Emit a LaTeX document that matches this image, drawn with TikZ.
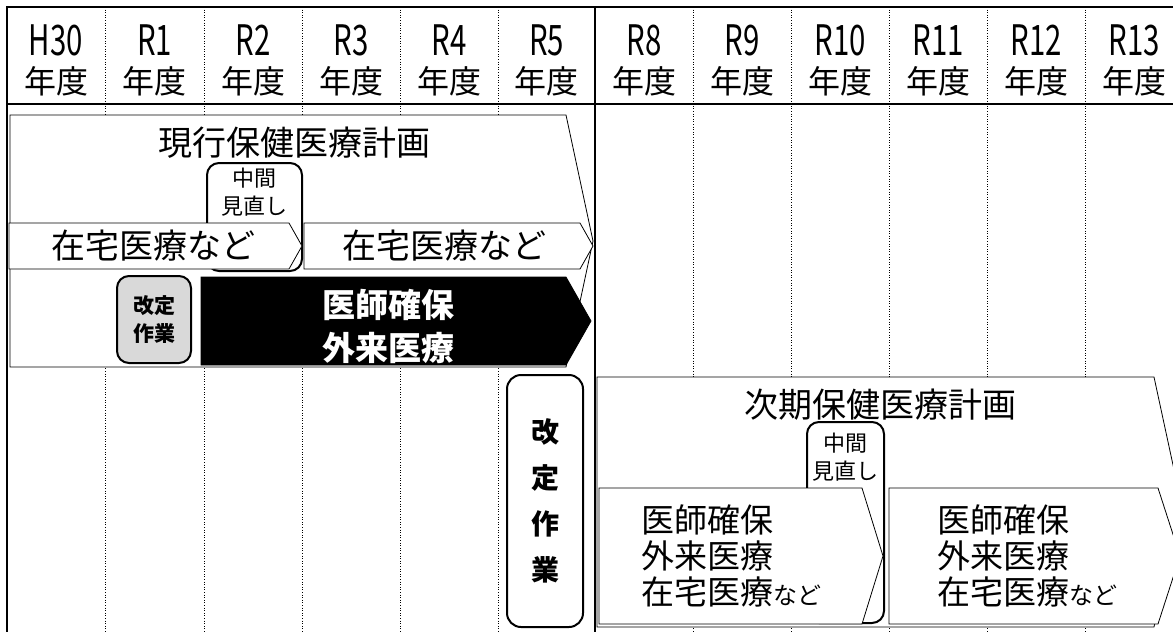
\documentclass[tikz,border=0pt]{standalone}
\usepackage{fontspec}
\setmainfont{Noto Sans CJK JP}
\newfontfamily\hdrfont[FakeStretch=0.7]{Noto Sans CJK JP}
\usepackage{tikz}
\usetikzlibrary{positioning}

\begin{document}
\begin{tikzpicture}[inner sep=0pt,
  colline/.style={line width=0.6pt, dash pattern=on 1pt off 1.6pt},
  tblline/.style={line width=2pt},
  chev/.style={draw, fill=white, line width=0.8pt},
  blk/.style={draw, fill=black, line width=0.8pt},
  rbox/.style={draw, fill=white, line width=2pt, rounded corners=12pt, shape=rectangle},
  yr/.style={font=\hdrfont\fontsize{42}{42}\selectfont},
  nendo/.style={font=\fontsize{32}{32}\selectfont},
  bigtxt/.style={font=\fontsize{34}{36}\selectfont, align=center},
  lst/.style={font=\fontsize{33}{36}\selectfont, align=left, anchor=west},
  mtxt/.style={font=\fontsize{22}{28}\selectfont, align=center}]
\useasboundingbox (0pt,0pt) rectangle (1173pt,-632pt);

% year columns
\draw[colline] (105pt,-7pt) -- (105pt,-640pt);
\draw[colline] (204pt,-7pt) -- (204pt,-640pt);
\draw[colline] (302pt,-7pt) -- (302pt,-640pt);
\draw[colline] (400pt,-7pt) -- (400pt,-640pt);
\draw[colline] (498pt,-7pt) -- (498pt,-640pt);
\draw[colline] (693pt,-7pt) -- (693pt,-640pt);
\draw[colline] (791pt,-7pt) -- (791pt,-640pt);
\draw[colline] (889pt,-7pt) -- (889pt,-640pt);
\draw[colline] (987pt,-7pt) -- (987pt,-640pt);
\draw[colline] (1085pt,-7pt) -- (1085pt,-640pt);
\draw[tblline] (1190pt,-7pt) -- (7pt,-7pt) -- (7pt,-640pt);
\draw[tblline] (7pt,-104pt) -- (1190pt,-104pt);
\draw[tblline] (595pt,-7pt) -- (595pt,-640pt);

\node (y0) [yr, at={(56pt,-40pt)}] {H30};
\node (y1) [yr, at={(154.5pt,-40pt)}] {R1};
\node (y2) [yr, at={(253pt,-40pt)}] {R2};
\node (y3) [yr, at={(351pt,-40pt)}] {R3};
\node (y4) [yr, at={(449pt,-40pt)}] {R4};
\node (y5) [yr, at={(546.5pt,-40pt)}] {R5};
\node (y6) [yr, at={(644pt,-40pt)}] {R8};
\node (y7) [yr, at={(742pt,-40pt)}] {R9};
\node (y8) [yr, at={(840pt,-40pt)}] {R10};
\node (y9) [yr, at={(938pt,-40pt)}] {R11};
\node (y10) [yr, at={(1036pt,-40pt)}] {R12};
\node (y11) [yr, at={(1134pt,-40pt)}] {R13};
\node (n0) [nendo, at={(56pt,-81pt)}] {年度};
\node (n1) [nendo, at={(154.5pt,-81pt)}] {年度};
\node (n2) [nendo, at={(253pt,-81pt)}] {年度};
\node (n3) [nendo, at={(351pt,-81pt)}] {年度};
\node (n4) [nendo, at={(449pt,-81pt)}] {年度};
\node (n5) [nendo, at={(546.5pt,-81pt)}] {年度};
\node (n6) [nendo, at={(644pt,-81pt)}] {年度};
\node (n7) [nendo, at={(742pt,-81pt)}] {年度};
\node (n8) [nendo, at={(840pt,-81pt)}] {年度};
\node (n9) [nendo, at={(938pt,-81pt)}] {年度};
\node (n10) [nendo, at={(1036pt,-81pt)}] {年度};
\node (n11) [nendo, at={(1134pt,-81pt)}] {年度};

% current plan
\path[chev] (10pt,-115pt) -- (566pt,-115pt) -- (593pt,-241pt) -- (566pt,-367pt) -- (10pt,-367pt) -- cycle;
\node (plan1) [bigtxt, at={(294pt,-143pt)}] {現行保健医療計画};
\node (mid1) [rbox, minimum width=95pt, minimum height=108pt, at={(254.5pt,-217pt)}] {};
\node (mid1t) [mtxt, below=6pt of mid1.north] {中間\\見直し};
\path[chev] (9pt,-223pt) -- (289pt,-223pt) -- (302pt,-246pt) -- (289pt,-269pt) -- (9pt,-269pt) -- cycle;
\node (home1) [bigtxt, at={(153pt,-246pt)}] {在宅医療など};
\path[chev] (304pt,-223pt) -- (580pt,-223pt) -- (593pt,-246pt) -- (580pt,-269pt) -- (304pt,-269pt) -- cycle;
\node (home2) [bigtxt, at={(444pt,-246pt)}] {在宅医療など};
\node (rev1) [rbox, fill=black!15, minimum width=74pt, minimum height=87pt, at={(154pt,-319.5pt)}, mtxt, font=\bfseries\fontsize{21}{28}\selectfont] {改定\\作業};
\path[blk] (201pt,-277pt) -- (566pt,-277pt) -- (591pt,-321pt) -- (566pt,-365pt) -- (201pt,-365pt) -- cycle;
\node (doc1) [bigtxt, text=white, font=\bfseries\fontsize{33}{43}\selectfont, at={(388pt,-326.5pt)}] {医師確保\\外来医療};

% next plan
\node (rev2) [rbox, rounded corners=14pt, minimum width=76pt, minimum height=252pt, at={(545pt,-501pt)}, align=center, font=\bfseries\fontsize{28}{46}\selectfont] {改\\定\\作\\業};
\path[chev] (597pt,-377pt) -- (1154pt,-377pt) -- (1181pt,-502pt) -- (1154pt,-627pt) -- (597pt,-627pt) -- cycle;
\node (plan2) [bigtxt, at={(880pt,-405pt)}] {次期保健医療計画};
\node (mid2) [rbox, minimum width=77pt, minimum height=201pt, at={(845.5pt,-522.5pt)}] {};
\node (mid2t) [mtxt, below=12pt of mid2.north] {中間\\見直し};
\path[chev] (599pt,-488pt) -- (862pt,-488pt) -- (883pt,-556pt) -- (862pt,-624pt) -- (599pt,-624pt) -- cycle;
\node (nx1) [lst, at={(641pt,-556pt)}] {医師確保\\外来医療\\在宅医療{\fontsize{24}{24}\selectfont など}};
\path[chev] (889pt,-488pt) -- (1158pt,-488pt) -- (1180pt,-556pt) -- (1158pt,-624pt) -- (889pt,-624pt) -- cycle;
\node (nx2) [lst, at={(937pt,-556pt)}] {医師確保\\外来医療\\在宅医療{\fontsize{24}{24}\selectfont など}};
\end{tikzpicture}
\end{document}
